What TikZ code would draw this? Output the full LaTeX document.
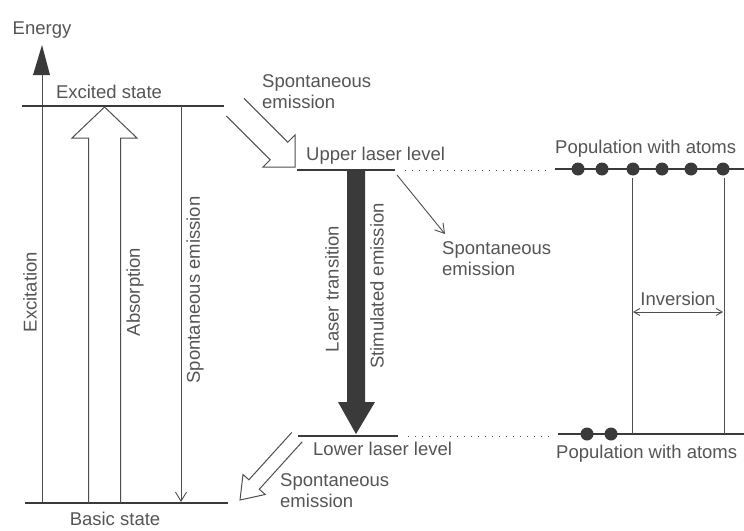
\documentclass[tikz,border=0pt]{standalone}
\usepackage{fontspec}
\setmainfont{Liberation Sans}
\usetikzlibrary{arrows.meta}
\definecolor{ink}{HTML}{4E4E4E}
\definecolor{txt}{HTML}{555555}
\definecolor{dark}{HTML}{3A3A3A}
\begin{document}
\begin{tikzpicture}[x=1pt,y=-1pt,
  lbl/.style={text=txt,font=\fontsize{18.5}{20.5}\selectfont,inner sep=0pt},
  level/.style={draw=dark,line width=1.8pt},
  thinline/.style={draw=ink,line width=1pt},
  openarrow/.style={draw=ink,line width=0.9pt,-{Straight Barb[length=9pt,width=11pt]}},
  hollow/.style={draw=ink,line width=1pt,line join=miter},
  atom/.style={circle,fill=dark,minimum size=13pt,inner sep=0pt},
  dotline/.style={draw=ink,line width=1pt,dash pattern=on 1.2pt off 5.8pt},
  invarrow/.style={draw=ink,line width=0.9pt,{Straight Barb[length=6pt,width=7pt]}-{Straight Barb[length=6pt,width=7pt]}}
]
\useasboundingbox[fill=white] (0,0) rectangle (744,530);

% ---- coordinates
\coordinate (exL) at (22,106);   \coordinate (exR) at (224,106);
\coordinate (baL) at (25,503);   \coordinate (baR) at (228,503);
\coordinate (enB) at (42,503);   \coordinate (enT) at (42,74);
\coordinate (seTop) at (181,106);  \coordinate (seBot) at (181,502);
\coordinate (upL) at (297,170);  \coordinate (upR) at (395,170);
\coordinate (upDa) at (405,170); \coordinate (upDb) at (550,170);
\coordinate (upPa) at (555,169); \coordinate (upPb) at (744,169);
\coordinate (loL) at (298,436);  \coordinate (loR) at (398,436);
\coordinate (loDa) at (408,436); \coordinate (loDb) at (550,436);
\coordinate (loPa) at (558,434); \coordinate (loPb) at (744,434);
\coordinate (ivAt) at (632,178); \coordinate (ivAb) at (632,434);
\coordinate (ivBt) at (724,178); \coordinate (ivBb) at (724,434);
\coordinate (ivL) at (633,312);  \coordinate (ivR) at (723,312);
\coordinate (smS) at (397,175);  \coordinate (smE) at (445,234);

% ---- labels
\node[lbl,anchor=base] (energy) at (42,34.5) {Energy};
\node[lbl,anchor=base] (excited) at (109,98) {Excited state};
\node[lbl,anchor=base] (basic) at (115,525) {Basic state};
\node[lbl,rotate=90] (excitation) at (30,292) {Excitation};
\node[lbl,rotate=90] (absorption) at (135,292) {Absorption};
\node[lbl,rotate=90] (spvert) at (195,290) {Spontaneous emission};
\node[lbl,rotate=90] (lasertr) at (332,289) {Laser transition};
\node[lbl,rotate=90] (stimem) at (377,286) {Stimulated emission};
\node[lbl,anchor=base west,align=left] (labSpA) at (262,108) {Spontaneous\\emission};
\node[lbl,anchor=base west] (upper) at (306,160) {Upper laser level};
\node[lbl,anchor=base west] (popU) at (555,153) {Population with atoms};
\node[lbl,anchor=base] (inv) at (678,305) {Inversion};
\node[lbl,anchor=base west,align=left] (labSpB) at (442,275) {Spontaneous\\emission};
\node[lbl,anchor=base west] (lower) at (313,455) {Lower laser level};
\node[lbl,anchor=base west] (popL) at (556,458) {Population with atoms};
\node[lbl,anchor=base west,align=left] (labSpC) at (280,507) {Spontaneous\\emission};

% ---- energy axis
\draw[thinline] (enB) -- (enT);
\fill[dark] (33,75) -- (42,45) -- (50,75) -- cycle;

% ---- levels
\draw[level] (exL) -- (exR);
\draw[level] (baL) -- (baR);
\draw[level] (upL) -- (upR);
\draw[level] (loL) -- (loR);
\draw[dotline] (upDa) -- (upDb);
\draw[dotline] (loDa) -- (loDb);
\draw[level] (upPa) -- (upPb);
\draw[level] (loPa) -- (loPb);

% ---- atoms
\foreach \x/\n in {578/a1,602/a2,633/a3,662/a4,691/a5,723/a6}
  \node[atom] (\n) at (\x,169) {};
\foreach \x/\n in {587/b1,611/b2}
  \node[atom] (\n) at (\x,434) {};

% ---- inversion
\draw[thinline] (ivAt) -- (ivAb);
\draw[thinline] (ivBt) -- (ivBb);
\draw[invarrow] (ivL) -- (ivR);

% ---- excitation & absorption
\draw[hollow] (88.5,503) -- (88.5,138) -- (72,138) -- (104.5,107) -- (137,138) -- (120.5,138) -- (120.5,503);

% ---- spontaneous emission (left, vertical)
\draw[openarrow] (seTop) -- (seBot);

% ---- laser transition thick arrow
\fill[dark] (347,171) -- (365,171) -- (365,402) -- (375,402) -- (356,434) -- (338,402) -- (347,402) -- cycle;

% ---- spontaneous emission from upper level
\draw[openarrow] (smS) -- (smE);

% ---- hollow arrow into upper laser level
\draw[hollow] (244,98.4) -- (287.8,142.2) -- (295,135) -- (295,167) -- (263,167) -- (270.2,159.8) -- (226.4,116);

% ---- hollow arrow from lower laser level
\draw[hollow] (291.8,432.4) -- (248.9,479.8) -- (243,474.5) -- (240,500) -- (265.2,494.5) -- (259.3,489.2) -- (302.2,441.8);
\end{tikzpicture}
\end{document}
